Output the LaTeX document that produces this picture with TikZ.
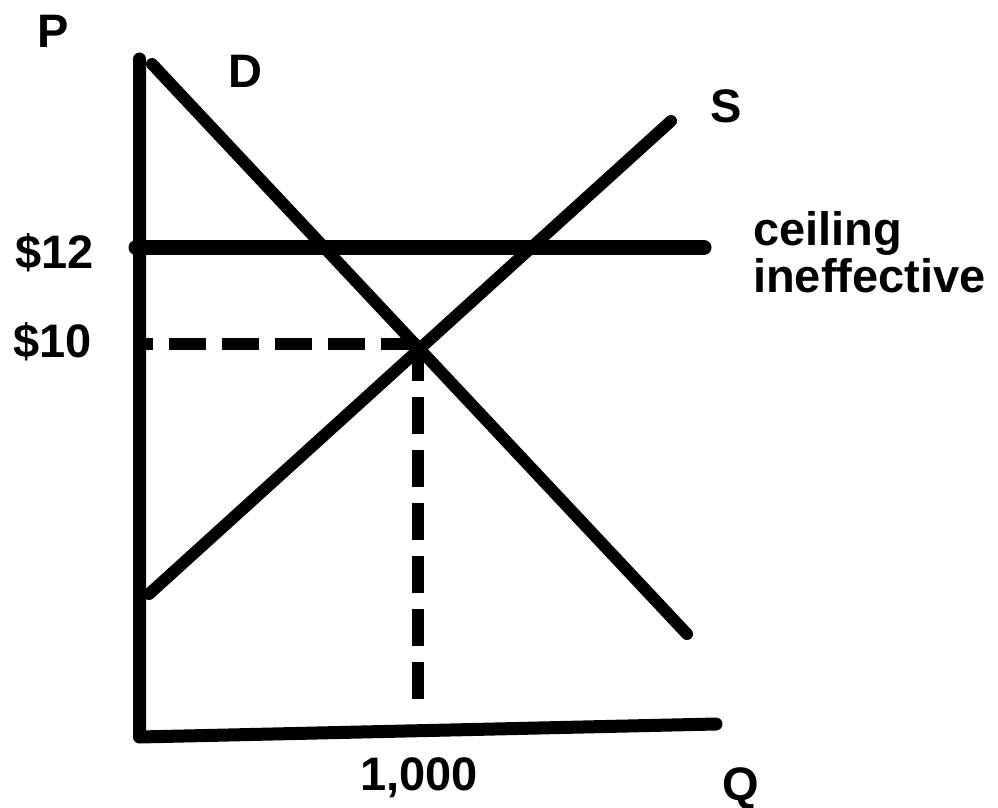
\documentclass[tikz,border=0pt]{standalone}
\usepackage{fontspec}
\setmainfont{Liberation Sans}
\begin{document}
\begin{tikzpicture}[x=1pt,y=-1pt,
  axisline/.style={line width=13pt,line cap=round,line join=round},
  curve/.style={line width=12pt,line cap=round},
  ceilline/.style={line width=15pt,line cap=round},
  dashline/.style={line width=12.5pt,line cap=butt,dash pattern=on 37pt off 16pt},
  lbl/.style={font=\fontsize{47}{47}\selectfont\bfseries,inner sep=0pt,anchor=base west}]
\useasboundingbox (0,0) rectangle (998,808);
% axes
\coordinate (ytop) at (139.5,59);
\coordinate (origin) at (139.5,737);
\coordinate (xend) at (716,724);
\draw[axisline] (ytop) -- (origin) -- (xend);
% ceiling
\coordinate (c1) at (136,247.5);
\coordinate (c2) at (704,247.5);
\draw[ceilline] (c1) -- (c2);
% demand and supply
\coordinate (d1) at (152,64);
\coordinate (d2) at (687,634);
\coordinate (s1) at (149,594);
\coordinate (s2) at (671,121);
\draw[curve] (d1) -- (d2);
\draw[curve] (s1) -- (s2);
% equilibrium guides
\coordinate (eq) at (418,344);
\coordinate (eqy) at (139.5,344);
\coordinate (eqx) at (418,703);
\draw[dashline] (eq) -- (eqy);
\draw[dashline] (eq) -- (eqx);
% labels
\node[lbl] (lp) at (37,48) {P};
\node[lbl] (ld) at (228,88) {D};
\node[lbl] (ls) at (710,122) {S};
\node[lbl] (l12) at (15,268) {\$12};
\node[lbl] (l10) at (13,357) {\$10};
\node[lbl,align=left] (lceil) at (753,292) {ceiling\\ineffective};
\node[lbl,anchor=base] (lq1) at (419,790) {1,000};
\node[lbl] (lq) at (722,800) {Q};
\end{tikzpicture}
\end{document}
